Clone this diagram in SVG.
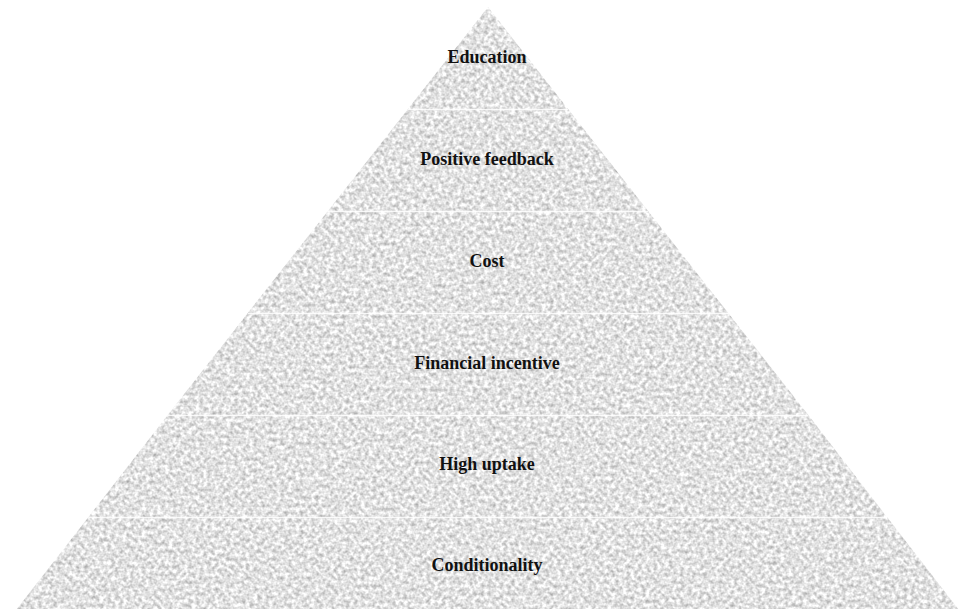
<svg xmlns="http://www.w3.org/2000/svg" width="959" height="609" viewBox="0 0 959 609">
  <defs>
    <filter id="granite" filterUnits="userSpaceOnUse" x="0" y="0" width="959" height="609" color-interpolation-filters="sRGB">
      <feTurbulence type="fractalNoise" baseFrequency="0.26" numOctaves="2" seed="7" result="noise"/>
      <feColorMatrix in="noise" type="matrix" values="0.55 0 0 0 0.61  0.55 0 0 0 0.61  0.55 0 0 0 0.61  0 0 0 0 1" result="gray"/>
      <feComposite in="gray" in2="SourceGraphic" operator="in"/>
    </filter>
  </defs>
  <style>
    .layer { fill: #dedede; filter: url(#granite); }
    .label { font-family: "Liberation Serif", "Times New Roman", serif; font-weight: bold; font-size: 18px; fill: #111111; text-anchor: middle; }
    .sep { stroke: #ffffff; stroke-width: 1.6; stroke-opacity: 0.85; }
  </style>
  <rect width="959" height="609" fill="#ffffff"/>
  <g id="layer-education">
    <polygon class="layer" points="488,7 568.1,109 407.9,109"/>
    <text class="label" x="487" y="63">Education</text>
  </g>
  <g id="layer-positive-feedback">
    <polygon class="layer" points="407.9,109 568.1,109 648.1,211 327.9,211"/>
    <text class="label" x="487" y="165">Positive feedback</text>
  </g>
  <g id="layer-cost">
    <polygon class="layer" points="327.9,211 648.1,211 728.2,313 247.8,313"/>
    <text class="label" x="487" y="267">Cost</text>
  </g>
  <g id="layer-financial-incentive">
    <polygon class="layer" points="247.8,313 728.2,313 808.3,415 167.7,415"/>
    <text class="label" x="487" y="369">Financial incentive</text>
  </g>
  <g id="layer-high-uptake">
    <polygon class="layer" points="167.7,415 808.3,415 887,517 88.5,517"/>
    <text class="label" x="487" y="470">High uptake</text>
  </g>
  <g id="layer-conditionality">
    <polygon class="layer" points="88.5,517 887,517 966,619 9,619"/>
    <text class="label" x="487" y="571">Conditionality</text>
  </g>
  <g id="separators">
    <line class="sep" x1="407.9" y1="109.5" x2="568.1" y2="109.5"/>
    <line class="sep" x1="327.9" y1="211.5" x2="648.1" y2="211.5"/>
    <line class="sep" x1="247.8" y1="313.5" x2="728.2" y2="313.5"/>
    <line class="sep" x1="167.7" y1="415.5" x2="808.3" y2="415.5"/>
    <line class="sep" x1="88.5" y1="517.5" x2="887" y2="517.5"/>
  </g>
</svg>
